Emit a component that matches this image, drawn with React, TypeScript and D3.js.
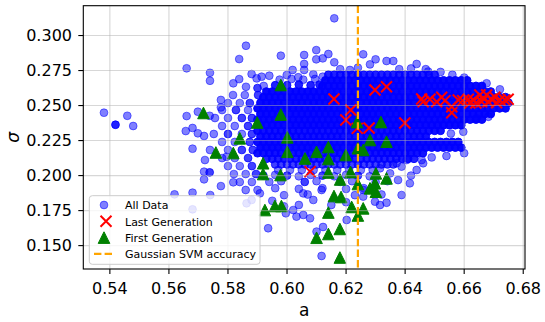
import React from 'react';
import * as d3 from 'd3';

const WIDTH = 545;
const HEIGHT = 322;
const FRAME = { left: 83.3, right: 525, top: 5.7, bottom: 269 };

const xTickValues = [0.54, 0.56, 0.58, 0.6, 0.62, 0.64, 0.66, 0.68];
const yTickValues = [0.15, 0.175, 0.2, 0.225, 0.25, 0.275, 0.3];

// Accuracy threshold of the Gaussian SVM, as a value of a
const svmAccuracyA = 0.624;

// Dense core of all evaluated individuals: one row per sigma level,
// n = number of individuals stacked at each listed position
const denseRows: { sigma: number; n: number; a: number[] }[] = [
  { sigma: 0.272, n: 3, a: [0.614, 0.616, 0.618, 0.620, 0.622, 0.624, 0.626, 0.628, 0.630, 0.632, 0.634, 0.636, 0.638, 0.640, 0.642, 0.644, 0.646, 0.648, 0.650] },
  { sigma: 0.268, n: 5, a: [0.613, 0.615, 0.617, 0.619, 0.621, 0.623, 0.625, 0.627, 0.629, 0.631, 0.633, 0.635, 0.637, 0.639, 0.641, 0.643, 0.645, 0.647, 0.649, 0.651, 0.653, 0.655, 0.657, 0.659, 0.661] },
  { sigma: 0.264, n: 5, a: [0.612, 0.614, 0.616, 0.618, 0.620, 0.622, 0.624, 0.626, 0.628, 0.630, 0.632, 0.634, 0.636, 0.638, 0.640, 0.642, 0.644, 0.646, 0.648, 0.650, 0.652, 0.654, 0.656, 0.658, 0.660, 0.662, 0.664, 0.666] },
  { sigma: 0.260, n: 5, a: [0.593, 0.595, 0.597, 0.599, 0.601, 0.603, 0.605, 0.607, 0.609, 0.611, 0.613, 0.615, 0.617, 0.619, 0.621, 0.623, 0.625, 0.627, 0.629, 0.631, 0.633, 0.635, 0.637, 0.639, 0.641, 0.643, 0.645, 0.647, 0.649, 0.651, 0.653, 0.655, 0.657, 0.659, 0.661, 0.663, 0.665, 0.667, 0.669] },
  { sigma: 0.256, n: 5, a: [0.592, 0.594, 0.596, 0.598, 0.600, 0.602, 0.604, 0.606, 0.608, 0.610, 0.612, 0.614, 0.616, 0.618, 0.620, 0.622, 0.624, 0.626, 0.628, 0.630, 0.632, 0.634, 0.636, 0.638, 0.640, 0.642, 0.644, 0.646, 0.648, 0.650, 0.652, 0.654, 0.656, 0.658, 0.660, 0.662, 0.664, 0.666, 0.668, 0.670, 0.672, 0.674] },
  { sigma: 0.252, n: 5, a: [0.591, 0.593, 0.595, 0.597, 0.599, 0.601, 0.603, 0.605, 0.607, 0.609, 0.611, 0.613, 0.615, 0.617, 0.619, 0.621, 0.623, 0.625, 0.627, 0.629, 0.631, 0.633, 0.635, 0.637, 0.639, 0.641, 0.643, 0.645, 0.647, 0.649, 0.651, 0.653, 0.655, 0.657, 0.659, 0.661, 0.663, 0.665, 0.667, 0.669, 0.671, 0.673, 0.675] },
  { sigma: 0.248, n: 5, a: [0.590, 0.592, 0.594, 0.596, 0.598, 0.600, 0.602, 0.604, 0.606, 0.608, 0.610, 0.612, 0.614, 0.616, 0.618, 0.620, 0.622, 0.624, 0.626, 0.628, 0.630, 0.632, 0.634, 0.636, 0.638, 0.640, 0.642, 0.644, 0.646, 0.648, 0.650, 0.652, 0.654, 0.656, 0.658, 0.660, 0.662, 0.664, 0.666, 0.668, 0.670, 0.672, 0.674] },
  { sigma: 0.244, n: 5, a: [0.591, 0.593, 0.595, 0.597, 0.599, 0.601, 0.603, 0.605, 0.607, 0.609, 0.611, 0.613, 0.615, 0.617, 0.619, 0.621, 0.623, 0.625, 0.627, 0.629, 0.631, 0.633, 0.635, 0.637, 0.639, 0.641, 0.643, 0.645, 0.647, 0.649, 0.651, 0.653, 0.655, 0.657, 0.659, 0.661, 0.663, 0.665, 0.667, 0.669] },
  { sigma: 0.240, n: 5, a: [0.590, 0.592, 0.594, 0.596, 0.598, 0.600, 0.602, 0.604, 0.606, 0.608, 0.610, 0.612, 0.614, 0.616, 0.618, 0.620, 0.622, 0.624, 0.626, 0.628, 0.630, 0.632, 0.634, 0.636, 0.638, 0.640, 0.642, 0.644, 0.646, 0.648, 0.650, 0.652, 0.654, 0.656, 0.658, 0.660, 0.662, 0.664, 0.666] },
  { sigma: 0.236, n: 5, a: [0.591, 0.593, 0.595, 0.597, 0.599, 0.601, 0.603, 0.605, 0.607, 0.609, 0.611, 0.613, 0.615, 0.617, 0.619, 0.621, 0.623, 0.625, 0.627, 0.629, 0.631, 0.633, 0.635, 0.637, 0.639, 0.641, 0.643, 0.645, 0.647, 0.649, 0.651, 0.653, 0.655, 0.657, 0.659] },
  { sigma: 0.232, n: 4, a: [0.590, 0.592, 0.594, 0.596, 0.598, 0.600, 0.602, 0.604, 0.606, 0.608, 0.610, 0.612, 0.614, 0.616, 0.618, 0.620, 0.622, 0.624, 0.626, 0.628, 0.630, 0.632, 0.634, 0.636, 0.638, 0.640, 0.642, 0.644, 0.646, 0.648, 0.650, 0.652] },
  { sigma: 0.228, n: 4, a: [0.591, 0.593, 0.595, 0.597, 0.599, 0.601, 0.603, 0.605, 0.607, 0.609, 0.611, 0.613, 0.615, 0.617, 0.619, 0.621, 0.623, 0.625, 0.627, 0.629, 0.631, 0.633, 0.635, 0.637, 0.639, 0.641, 0.643, 0.645, 0.647] },
  { sigma: 0.224, n: 5, a: [0.590, 0.592, 0.594, 0.596, 0.598, 0.600, 0.602, 0.604, 0.606, 0.608, 0.610, 0.612, 0.614, 0.616, 0.618, 0.620, 0.622, 0.624, 0.626, 0.628, 0.630, 0.632, 0.634, 0.636, 0.638, 0.640, 0.642, 0.644, 0.646, 0.648, 0.650, 0.652, 0.654, 0.656, 0.658] },
  { sigma: 0.220, n: 5, a: [0.591, 0.593, 0.595, 0.597, 0.599, 0.601, 0.603, 0.605, 0.607, 0.609, 0.611, 0.613, 0.615, 0.617, 0.619, 0.621, 0.623, 0.625, 0.627, 0.629, 0.631, 0.633, 0.635, 0.637, 0.639, 0.641, 0.643, 0.645, 0.647, 0.649, 0.651, 0.653, 0.655, 0.657, 0.659] },
  { sigma: 0.216, n: 4, a: [0.590, 0.592, 0.594, 0.596, 0.598, 0.600, 0.602, 0.604, 0.606, 0.608, 0.610, 0.612, 0.614, 0.616, 0.618, 0.620, 0.622, 0.624, 0.626, 0.628, 0.630, 0.632, 0.634, 0.636, 0.638, 0.640, 0.642, 0.644, 0.646] },
  { sigma: 0.212, n: 3, a: [0.593, 0.595, 0.597, 0.599, 0.601, 0.603, 0.605, 0.607, 0.609, 0.611, 0.613, 0.615, 0.617, 0.619, 0.621, 0.623, 0.625, 0.627, 0.629, 0.631, 0.633, 0.635, 0.637, 0.639, 0.641, 0.643] },
  { sigma: 0.208, n: 2, a: [0.596, 0.598, 0.600, 0.602, 0.604, 0.606, 0.608, 0.610, 0.612, 0.614, 0.616, 0.618, 0.620, 0.622, 0.624, 0.626, 0.628, 0.630, 0.632, 0.634, 0.636] },
  { sigma: 0.204, n: 1, a: [0.597, 0.601, 0.605, 0.609, 0.613, 0.617, 0.621, 0.625, 0.629] },
];

// Remaining individuals around the core: [a, sigma, count]
const scatterPoints: number[][] = [
  [0.538, 0.2449], [0.5419, 0.2363, 3], [0.5459, 0.2427], [0.5479, 0.2354],
  [0.5619, 0.1866], [0.566, 0.2766], [0.566, 0.2425], [0.5657, 0.2318], [0.568, 0.234], [0.568, 0.2192], [0.568, 0.1878], [0.568, 0.1759],
  [0.5698, 0.2456], [0.5698, 0.2302], [0.5719, 0.2283], [0.5719, 0.2028], [0.5719, 0.1973], [0.5738, 0.2023, 2], [0.574, 0.1861],
  [0.5739, 0.2734], [0.5739, 0.2677], [0.5738, 0.2427], [0.5739, 0.2183], [0.5722, 0.2111],
  [0.5776, 0.254], [0.5776, 0.2487], [0.5776, 0.1925], [0.5795, 0.2134], [0.5818, 0.1952],
  [0.5817, 0.2575], [0.5857, 0.2575], [0.5902, 0.2575, 2],
  [0.58, 0.2518], [0.584, 0.2518], [0.5874, 0.2518, 2],
  [0.578, 0.2468], [0.5827, 0.2468, 2], [0.5868, 0.2468],
  [0.5756, 0.2411], [0.58, 0.2411], [0.5847, 0.2411, 2], [0.5881, 0.2411, 2],
  [0.578, 0.2354], [0.5823, 0.2354], [0.5868, 0.2354, 2],
  [0.5752, 0.2297], [0.58, 0.2297, 2], [0.5847, 0.2297], [0.5881, 0.2297, 2],
  [0.578, 0.224], [0.5823, 0.224], [0.5874, 0.224, 2],
  [0.58, 0.2183], [0.5847, 0.2183, 2], [0.5884, 0.2183, 2],
  [0.578, 0.2125], [0.5823, 0.2125], [0.5868, 0.2125, 2],
  [0.58, 0.2068], [0.584, 0.2068], [0.5881, 0.2068, 2],
  [0.582, 0.2011], [0.586, 0.2011], [0.5895, 0.2011, 2],
  [0.584, 0.1954], [0.5881, 0.1954], [0.586, 0.1897], [0.59, 0.1897],
  [0.5863, 0.1802], [0.588, 0.1826], [0.5908, 0.1873], [0.5936, 0.1624],
  [0.616, 0.3123], [0.5861, 0.2927], [0.5838, 0.2832], [0.5979, 0.2856], [0.6099, 0.2896], [0.6058, 0.2861], [0.6099, 0.283],
  [0.6121, 0.2837], [0.616, 0.2809], [0.6058, 0.2797], [0.6058, 0.2754], [0.6019, 0.2754], [0.5999, 0.2718], [0.6038, 0.2702],
  [0.588, 0.2725], [0.594, 0.2713], [0.5914, 0.2706], [0.5838, 0.2689], [0.5818, 0.2659], [0.5897, 0.2694], [0.5861, 0.2634],
  [0.59, 0.2625, 2], [0.5921, 0.264], [0.6121, 0.2706], [0.6089, 0.2723], [0.6213, 0.2754], [0.6258, 0.2866], [0.63, 0.283],
  [0.614, 0.2868], [0.6337, 0.2818], [0.636, 0.2818], [0.6439, 0.2797], [0.6478, 0.2743], [0.6281, 0.2794], [0.618, 0.276],
  [0.624, 0.277], [0.638, 0.276], [0.642, 0.2765], [0.652, 0.274], [0.656, 0.272], [0.66, 0.27], [0.647, 0.276],
  [0.596, 0.2645, 3], [0.6, 0.2645, 3], [0.604, 0.265, 3], [0.608, 0.2645, 3], [0.611, 0.265, 3],
  [0.5975, 0.2685], [0.6015, 0.269], [0.6055, 0.2685], [0.6095, 0.269],
  [0.6676, 0.2659], [0.6721, 0.2616], [0.6682, 0.242], [0.6642, 0.2409], [0.6597, 0.2313], [0.6555, 0.23],
  [0.66, 0.216], [0.654, 0.214], [0.649, 0.213],
  [0.592, 0.2, 2], [0.596, 0.2005], [0.6, 0.2, 2], [0.604, 0.1995], [0.608, 0.2005], [0.612, 0.2, 2], [0.616, 0.1995],
  [0.62, 0.2005], [0.624, 0.2, 2], [0.628, 0.1995],
  [0.594, 0.1955], [0.598, 0.196], [0.606, 0.1955, 2], [0.61, 0.196], [0.618, 0.1955], [0.622, 0.196], [0.63, 0.1955], [0.634, 0.196],
  [0.596, 0.191], [0.604, 0.1905], [0.612, 0.191], [0.62, 0.1905], [0.626, 0.191],
  [0.599, 0.186], [0.607, 0.1865], [0.623, 0.186], [0.632, 0.1865], [0.6055, 0.1873], [0.6089, 0.1826], [0.6117, 0.1897],
  [0.6032, 0.1707], [0.6055, 0.1719], [0.6078, 0.1695], [0.6021, 0.1754], [0.5996, 0.1731], [0.61, 0.16], [0.604, 0.179],
  [0.615, 0.179], [0.62, 0.181], [0.599, 0.178], [0.595, 0.182],
  [0.6388, 0.1861], [0.6416, 0.1945], [0.6439, 0.204], [0.6461, 0.2088], [0.6388, 0.2064], [0.6349, 0.2016], [0.6315, 0.2052],
  [0.6315, 0.179], [0.6298, 0.1814], [0.6258, 0.185], [0.6202, 0.1683], [0.6117, 0.1426], [0.6122, 0.1633], [0.6337, 0.1806],
  [0.6376, 0.1968], [0.6258, 0.1898], [0.6456, 0.2111], [0.6371, 0.2088], [0.6405, 0.2111], [0.642, 0.2],
];

// Last generation of the search: [a, sigma]
const lastGeneration: number[][] = [
  [0.6159, 0.2547], [0.6216, 0.2468], [0.6199, 0.2397], [0.6238, 0.2337], [0.6278, 0.234], [0.6298, 0.2611],
  [0.6337, 0.2634], [0.6399, 0.2375], [0.6078, 0.2028], [0.6456, 0.2547], [0.6461, 0.2527], [0.6484, 0.2545],
  [0.6507, 0.2527], [0.6524, 0.2559], [0.6535, 0.2535], [0.6558, 0.2492], [0.6558, 0.2449], [0.658, 0.254],
  [0.6595, 0.2535], [0.6614, 0.2545], [0.6619, 0.2518], [0.6631, 0.254], [0.664, 0.2518], [0.6653, 0.2575],
  [0.6659, 0.2527], [0.6665, 0.2552], [0.6676, 0.2575], [0.6681, 0.2527], [0.6693, 0.2545], [0.6704, 0.2559],
  [0.671, 0.252], [0.6721, 0.254], [0.6738, 0.254], [0.6749, 0.2545],
];

// First generation of the search: [a, sigma]
const firstGeneration: number[][] = [
  [0.5717, 0.2447], [0.5759, 0.2165], [0.5818, 0.2161], [0.584, 0.2266], [0.5899, 0.2379], [0.5979, 0.2647],
  [0.5979, 0.2436], [0.6001, 0.2273], [0.6001, 0.217], [0.5919, 0.2088], [0.5919, 0.2011], [0.5978, 0.2004],
  [0.5925, 0.1754], [0.5959, 0.1783], [0.5981, 0.1783], [0.6061, 0.2122], [0.61, 0.217], [0.614, 0.2204],
  [0.614, 0.2118], [0.6199, 0.2147], [0.624, 0.2195], [0.6258, 0.2183], [0.614, 0.2022], [0.618, 0.1972],
  [0.6215, 0.2025], [0.624, 0.194], [0.6159, 0.1854], [0.6183, 0.1847], [0.614, 0.1736], [0.6219, 0.1776],
  [0.624, 0.1715], [0.6258, 0.1766], [0.61, 0.1556], [0.614, 0.1583], [0.6179, 0.1619], [0.6179, 0.1415],
  [0.6237, 0.2382], [0.6318, 0.2382], [0.6281, 0.2254], [0.6337, 0.2242], [0.6281, 0.1909], [0.6301, 0.1885],
  [0.6298, 0.1945], [0.6301, 0.2016], [0.6337, 0.198],
];

const legendLabels = ['All Data', 'Last Generation', 'First Generation', 'Gaussian SVM accuracy'];

const BLUE = '#0000ff';
const RED = '#ff0000';
const GREEN = '#008000';
const ORANGE = '#ffa500';

const crossPath = 'M-5.5,-5.5L5.5,5.5M-5.5,5.5L5.5,-5.5';
const trianglePath = 'M0,-5.8L5.8,5.8L-5.8,5.8Z';

// A stack of n semi-transparent markers at one position
function Dot({ cx, cy, n = 1 }: { cx: number; cy: number; n?: number }) {
  const o = 1 - Math.pow(0.5, n);
  return (
    <circle cx={cx} cy={cy} r={3.9} fill={BLUE} fillOpacity={o} stroke={BLUE} strokeOpacity={o} strokeWidth={1} />
  );
}

export default function App() {
  const x = d3.scaleLinear().domain([0.531, 0.6806]).range([FRAME.left, FRAME.right]);
  const y = d3.scaleLinear().domain([0.1333, 0.3213]).range([FRAME.bottom, FRAME.top]);
  const fx = d3.format('.2f');
  const fy = d3.format('.3f');

  const allData = [
    ...denseRows.flatMap((r) => r.a.map((a) => ({ a, s: r.sigma, n: r.n }))),
    ...scatterPoints.map((p) => ({ a: p[0], s: p[1], n: p[2] ?? 1 })),
  ];

  const lx = 104;
  const legendBaselines = [209.3, 225.6, 241.9, 258.2];

  return (
    <svg
      width={WIDTH}
      height={HEIGHT}
      style={{ position: 'absolute', left: 0, top: 0 }}
      fontFamily="'DejaVu Sans', sans-serif"
    >
      <defs>
        <clipPath id="plot-area">
          <rect x={FRAME.left} y={FRAME.top} width={FRAME.right - FRAME.left} height={FRAME.bottom - FRAME.top} />
        </clipPath>
      </defs>
      <rect x={0} y={0} width={WIDTH} height={HEIGHT} fill="#ffffff" />

      <g clipPath="url(#plot-area)">
        {allData.map((p, i) => (
          <Dot key={`d${i}`} cx={x(p.a)} cy={y(p.s)} n={p.n} />
        ))}
        {lastGeneration.map(([a, s], i) => (
          <path key={`l${i}`} transform={`translate(${x(a)},${y(s)})`} d={crossPath} stroke={RED} strokeWidth={2} fill="none" />
        ))}
        {firstGeneration.map(([a, s], i) => (
          <path key={`f${i}`} transform={`translate(${x(a)},${y(s)})`} d={trianglePath} fill={GREEN} stroke={GREEN} strokeWidth={1} strokeLinejoin="miter" />
        ))}
        {xTickValues.map((t) => (
          <line key={`gx${t}`} x1={x(t)} x2={x(t)} y1={FRAME.top} y2={FRAME.bottom} stroke="#b0b0b0" strokeOpacity={0.5} strokeWidth={1.1} />
        ))}
        {yTickValues.map((t) => (
          <line key={`gy${t}`} x1={FRAME.left} x2={FRAME.right} y1={y(t)} y2={y(t)} stroke="#b0b0b0" strokeOpacity={0.5} strokeWidth={1.1} />
        ))}
        <line
          x1={x(svmAccuracyA)}
          x2={x(svmAccuracyA)}
          y1={FRAME.top}
          y2={FRAME.bottom}
          stroke={ORANGE}
          strokeWidth={2.2}
          strokeDasharray="7.4,3.2"
        />
      </g>

      <rect
        x={FRAME.left}
        y={FRAME.top}
        width={FRAME.right - FRAME.left}
        height={FRAME.bottom - FRAME.top}
        fill="none"
        stroke="#000000"
        strokeWidth={1.1}
      />

      {xTickValues.map((t) => (
        <g key={`tx${t}`}>
          <line x1={x(t)} x2={x(t)} y1={FRAME.bottom} y2={FRAME.bottom + 5} stroke="#000" strokeWidth={1.1} />
          <text x={x(t)} y={293.7} fontSize={16} textAnchor="middle" fill="#000">
            {fx(t)}
          </text>
        </g>
      ))}
      {yTickValues.map((t) => (
        <g key={`ty${t}`}>
          <line x1={FRAME.left - 5} x2={FRAME.left} y1={y(t)} y2={y(t)} stroke="#000" strokeWidth={1.1} />
          <text x={72} y={y(t) + 5.8} fontSize={16} textAnchor="end" fill="#000">
            {fy(t)}
          </text>
        </g>
      ))}

      <text x={(FRAME.left + FRAME.right) / 2} y={316} fontSize={17} textAnchor="middle" fill="#000">
        a
      </text>
      <text
        transform={`translate(18.5,${(FRAME.top + FRAME.bottom) / 2}) rotate(-90)`}
        fontSize={17}
        fontStyle="italic"
        textAnchor="middle"
        fill="#000"
      >
        σ
      </text>

      <g>
        <rect x={89.3} y={195.7} width={170.7} height={68.6} rx={3} fill="#ffffff" fillOpacity={0.8} stroke="#cccccc" strokeWidth={1} />
        <Dot cx={lx} cy={legendBaselines[0] - 4.3} />
        <path transform={`translate(${lx + 2},${legendBaselines[1] - 4.3})`} d={crossPath} stroke={RED} strokeWidth={2} fill="none" />
        <path transform={`translate(${lx},${legendBaselines[2] - 4.3})`} d={trianglePath} fill={GREEN} stroke={GREEN} strokeWidth={1} />
        <line x1={lx - 10} x2={lx + 10} y1={legendBaselines[3] - 4.3} y2={legendBaselines[3] - 4.3} stroke={ORANGE} strokeWidth={2.2} strokeDasharray="7.4,3.2" />
        {legendLabels.map((label, i) => (
          <text key={label} x={125} y={legendBaselines[i]} fontSize={11} fill="#000">
            {label}
          </text>
        ))}
      </g>
    </svg>
  );
}
